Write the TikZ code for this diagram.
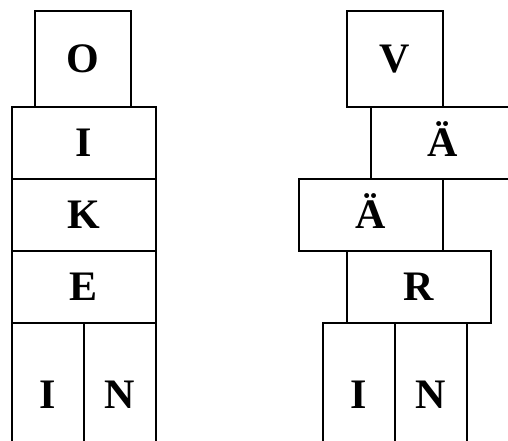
\documentclass[tikz,border=0pt]{standalone}
\usepackage{fontspec}
\setmainfont{Liberation Serif}
\begin{document}
\begin{tikzpicture}[x=1pt,y=1pt,
  cell/.style={draw=black, line width=2pt, rectangle, inner sep=0pt,
    minimum width=144pt, minimum height=72pt,
    font=\fontsize{42}{44}\selectfont\bfseries, text height=28pt, text depth=0pt},
  sq/.style={cell, minimum width=96pt, minimum height=96pt},
  half/.style={cell, minimum width=72pt, minimum height=144pt}]
\useasboundingbox (0,0) rectangle (508,441);
\clip (0,0) rectangle (508,441);
% left column: OIKEIN
\node[sq]   (o)  at (83,382) {O};
\node[cell] (i1) at (83.5,298) {I};
\node[cell] (k)  at (83.5,226) {K};
\node[cell] (e)  at (83.5,154) {E};
\node[half] (i2) at (47.5,46) {I};
\node[half] (n1) at (119.5,46) {N};
% right column: VÄÄRIN
\node[sq]   (v)  at (395,382) {V};
\node[cell] (a1) at (443,298) {Ä};
\node[cell] (a2) at (371,226) {Ä};
\node[cell] (r)  at (419,154) {R};
\node[half] (i3) at (359,46) {I};
\node[half] (n2) at (431,46) {N};
\end{tikzpicture}
\end{document}
